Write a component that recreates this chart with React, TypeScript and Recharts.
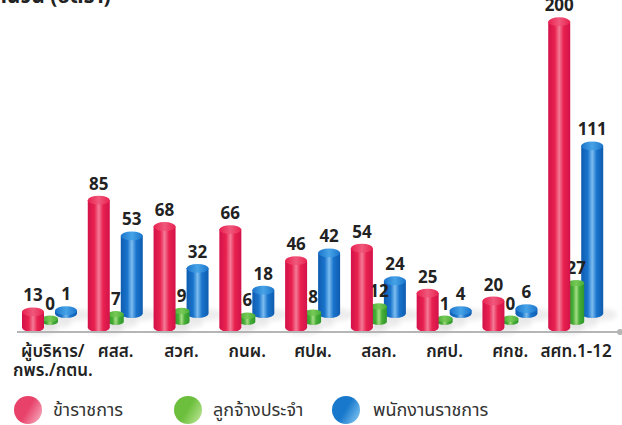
import { BarChart, Bar, XAxis, YAxis } from 'recharts'

// จำนวนอัตรากำลังแยกตามหน่วยงาน
const categories = ['ผู้บริหาร/\nกพร./กตน.', 'ศสส.', 'สวศ.', 'กนผ.', 'ศปผ.', 'สลก.', 'กศป.', 'ศกช.', 'สศท.1-12']
const civilServants = [13, 85, 68, 66, 46, 54, 25, 20, 200]
const permanentStaff = [0, 7, 9, 6, 8, 12, 1, 0, 27]
const govEmployees = [1, 53, 32, 18, 42, 24, 4, 6, 111]
const seriesNames = ['ข้าราชการ', 'ลูกจ้างประจำ', 'พนักงานราชการ']

const W = 622
const H = 425
const FONT = '"Noto Sans Thai", "Noto Sans", "DejaVu Sans", sans-serif'
const AXIS = '#b5b5b5'

const palette = {
  red: { edge: '#d3124a', base: '#e8214f', light: '#f47a96', cap: '#f0587c', legend: ['#e8416a', '#f8b8c8'] },
  green: { edge: '#2f962c', base: '#45ae36', light: '#a6de84', cap: '#78c956', legend: ['#6cbf3c', '#c4eaa0'] },
  blue: { edge: '#0e5cb0', base: '#1a74cc', light: '#7cbdf0', cap: '#47a3e6', legend: ['#1778cc', '#8fd0f6'] },
}

function makeCylinder(key: keyof typeof palette, drawWidth: number, dx: number, lift: number) {
  return (props: any) => {
    const { x, y, width, height, value } = props
    if (x == null || y == null) return null
    const cx = x + width / 2 + dx
    const rx = drawWidth / 2
    const ry = drawWidth * 0.2
    const left = cx - rx
    const bottom = y + height - lift - ry
    let top = y - lift
    if (bottom - top < 3) top = bottom - 3
    return (
      <g>
        <ellipse cx={cx + 7} cy={bottom + 1} rx={rx + 7} ry={ry + 2} fill="#000" opacity={0.07} filter="url(#soft)" />
        <path
          d={`M${left},${top} L${left},${bottom} A${rx},${ry} 0 0 0 ${left + drawWidth},${bottom} L${left + drawWidth},${top} Z`}
          fill={`url(#body-${key})`}
        />
        <ellipse cx={cx} cy={top} rx={rx} ry={ry} fill={`url(#cap-${key})`} />
        <text x={cx} y={top - ry - 6} textAnchor="middle" fontSize={17} fontWeight={700} fill="#222" fontFamily={FONT}>
          {value}
        </text>
      </g>
    )
  }
}

function CategoryTick(props: any) {
  const { x, y, payload } = props
  const lines = String(payload.value).split('\n')
  return (
    <g>
      {lines.map((line, i) => (
        <text key={i} x={x + (lines.length > 1 ? 3 : 0)} y={y + 25 + i * 19} textAnchor="middle" fontSize={17} fontWeight={600} fill="#222" fontFamily={FONT}>
          {line}
        </text>
      ))}
    </g>
  )
}

function AxisDot(props: any) {
  return <circle cx={props.x} cy={props.y} r={3} fill={AXIS} />
}

export default function App() {
  const data = categories.map((name, i) => ({
    name,
    civil: civilServants[i],
    perm: permanentStaff[i],
    gov: govEmployees[i],
  }))

  const legendColors = [palette.red.legend, palette.green.legend, palette.blue.legend]
  const legendLeft = [14, 174, 332]

  return (
    <div style={{ position: 'absolute', left: 0, top: 0, width: W, height: H, overflow: 'hidden', background: '#fff', fontFamily: FONT }}>
      <div style={{ position: 'absolute', left: -14, top: -19, fontSize: 21, fontWeight: 700, color: '#222', whiteSpace: 'nowrap' }}>
        จำนวน (อัตรา)
      </div>
      <BarChart width={W} height={H} data={data} margin={{ top: 14, right: 2, bottom: 0, left: 17 }}>
        <defs>
          <filter id="soft" x="-50%" y="-50%" width="200%" height="200%">
            <feGaussianBlur stdDeviation="2.5" />
          </filter>
          {(Object.keys(palette) as (keyof typeof palette)[]).map((k) => (
            <g key={k}>
              <linearGradient id={`body-${k}`} x1="0" y1="0" x2="1" y2="0">
                <stop offset="0%" stopColor={palette[k].edge} />
                <stop offset="30%" stopColor={palette[k].base} />
                <stop offset="50%" stopColor={palette[k].light} />
                <stop offset="70%" stopColor={palette[k].base} />
                <stop offset="100%" stopColor={palette[k].edge} />
              </linearGradient>
              <linearGradient id={`cap-${k}`} x1="0" y1="0" x2="1" y2="0">
                <stop offset="0%" stopColor={palette[k].base} />
                <stop offset="50%" stopColor={palette[k].cap} />
                <stop offset="100%" stopColor={palette[k].base} />
              </linearGradient>
            </g>
          ))}
        </defs>
        <XAxis
          dataKey="name"
          xAxisId="red"
          height={93}
          interval={0}
          padding={{ left: 0, right: 11 }}
          axisLine={{ stroke: AXIS, strokeWidth: 2 }}
          tickLine={false}
          tickSize={0}
          tickMargin={0}
          tick={<CategoryTick />}
        />
        <XAxis dataKey="name" xAxisId="green" hide height={0} padding={{ left: 0, right: 11 }} />
        <XAxis dataKey="name" xAxisId="blue" hide height={0} padding={{ left: 0, right: 11 }} />
        <YAxis
          domain={[0, 205]}
          ticks={[205]}
          width={0}
          tickSize={0}
          tickMargin={0}
          tickLine={false}
          axisLine={{ stroke: AXIS, strokeWidth: 2 }}
          tick={<AxisDot />}
        />
        <Bar dataKey="gov" name={seriesNames[2]} xAxisId="blue" barSize={22} shape={makeCylinder('blue', 22, 16, 14)} isAnimationActive={false} />
        <Bar dataKey="perm" name={seriesNames[1]} xAxisId="green" barSize={16} shape={makeCylinder('green', 16, 0, 7)} isAnimationActive={false} />
        <Bar dataKey="civil" name={seriesNames[0]} xAxisId="red" barSize={22} shape={makeCylinder('red', 22, -17, 0)} isAnimationActive={false} />
      </BarChart>
      <div style={{ position: 'absolute', left: 617, top: 329, width: 6, height: 6, borderRadius: 3, background: AXIS }} />
      {seriesNames.map((name, i) => (
        <div key={name} style={{ position: 'absolute', left: legendLeft[i], top: 396, display: 'flex', alignItems: 'center' }}>
          <div
            style={{
              width: 28,
              height: 28,
              borderRadius: 14,
              background: `linear-gradient(120deg, ${legendColors[i][0]} 48%, ${legendColors[i][1]} 100%)`,
            }}
          />
          <span style={{ marginLeft: i === 2 ? 13 : 11, fontSize: 18, color: '#333' }}>{name}</span>
        </div>
      ))}
    </div>
  )
}
